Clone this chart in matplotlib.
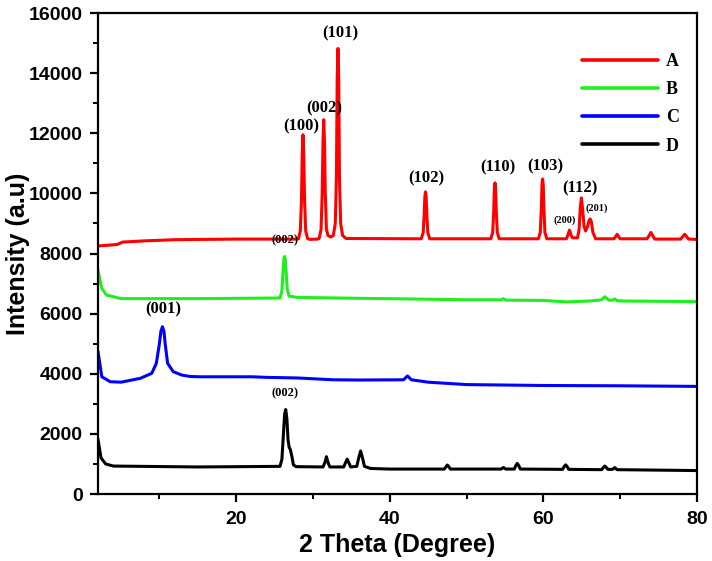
import matplotlib
matplotlib.use("Agg")
import matplotlib.pyplot as plt

# ================= DATA =================
# sample A (red)
A_x = [2.0, 4.5, 5.2, 8.0, 12.0, 20.0, 27.8,
       28.1, 28.35, 28.5, 28.6, 28.7, 28.8, 28.9, 29.05, 29.3, 29.6, 30.6,
       30.8, 31.05, 31.2, 31.3, 31.4, 31.5, 31.6, 31.75, 31.95, 32.3,
       32.65, 32.9, 33.05, 33.15, 33.25, 33.35, 33.45, 33.6, 33.85, 34.3,
       44.1, 44.35, 44.48, 44.57, 44.65, 44.73, 44.82, 44.95, 45.2,
       53.15, 53.4, 53.53, 53.62, 53.7, 53.78, 53.87, 54.0, 54.25,
       59.35, 59.6, 59.73, 59.82, 59.9, 59.98, 60.07, 60.2, 60.45,
       63.0, 63.2, 63.4, 63.6, 63.8, 64.45, 64.65, 64.8, 64.95, 65.1, 65.3, 65.5,
       65.75, 65.95, 66.1, 66.25, 66.45, 66.8,
       69.2, 69.4, 69.6, 69.8, 70.0, 73.5, 73.8, 74.0, 74.2, 74.5,
       77.9, 78.2, 78.4, 78.6, 78.9, 80.0]
A_y = [8250, 8300, 8380, 8420, 8460, 8480, 8480,
       8490, 8750, 9800, 11300, 11950, 11300, 9800, 8750, 8500, 8470, 8480,
       8500, 8800, 10000, 11700, 12450, 11700, 10000, 8800, 8600, 8550,
       8600, 9000, 10500, 13800, 14820, 13800, 10500, 9000, 8600, 8500,
       8490, 8700, 9300, 9900, 10050, 9900, 9300, 8700, 8490,
       8490, 8700, 9400, 10150, 10350, 10150, 9400, 8700, 8490,
       8490, 8700, 9500, 10300, 10480, 10300, 9500, 8700, 8490,
       8490, 8620, 8780, 8620, 8520, 8520, 8800, 9500, 9850, 9500, 8900, 8750,
       8900, 9100, 9150, 9050, 8700, 8490,
       8490, 8560, 8640, 8560, 8490, 8490, 8610, 8700, 8610, 8480,
       8480, 8580, 8640, 8580, 8480, 8470]

# sample B (green)
B_x = [2.0, 2.5, 3.1, 5.0, 15.0, 25.7, 25.95, 26.1, 26.2, 26.3, 26.4, 26.5, 26.65, 26.9,
       28.0, 36.0, 45.0, 50.0, 54.5, 54.8, 55.1, 60.0, 63.0, 66.0, 67.6, 67.85, 68.0,
       68.2, 68.5, 69.0, 69.3, 69.6, 70.5, 80.0]
B_y = [7450, 6840, 6620, 6500, 6500, 6520, 6750, 7400, 7800, 7900, 7800, 7400, 6800, 6580,
       6540, 6510, 6480, 6460, 6460, 6500, 6450, 6440, 6390, 6420, 6460, 6530, 6560,
       6520, 6450, 6450, 6490, 6430, 6420, 6400]

# sample C (blue)
C_x = [2.0, 2.5, 3.6, 5.0, 7.5, 9.0, 9.6, 10.0, 10.2, 10.4, 10.6, 10.75, 11.07, 11.8,
       12.9, 14.0, 15.3, 22.0, 24.0, 28.0, 32.6, 36.0, 41.8, 42.1, 42.3, 42.5, 42.8,
       45.0, 50.0, 60.0, 70.0, 80.0]
C_y = [4750, 3900, 3735, 3720, 3848, 4014, 4347, 5000, 5420, 5565, 5400, 5000, 4347, 4070,
       3958, 3910, 3900, 3900, 3880, 3860, 3800, 3792, 3800, 3880, 3925, 3880, 3800,
       3720, 3640, 3610, 3600, 3580]

# sample D (black)
D_x = [2.0, 2.4, 3.0, 4.0, 15.0, 25.7, 25.95, 26.15, 26.3, 26.45, 26.6, 26.75, 26.9,
       27.05, 27.25, 27.45, 27.8,
       31.3, 31.55, 31.75, 31.95, 32.2, 34.0, 34.25, 34.45, 34.65, 34.9, 35.7, 35.95,
       36.2, 36.45, 36.7, 37.5, 40.0,
       47.1, 47.3, 47.5, 47.7, 47.9, 54.5, 54.8, 55.1, 56.2, 56.4, 56.6, 56.8, 57.0,
       62.5, 62.7, 62.9, 63.1, 63.3, 67.6, 67.8, 68.0, 68.2, 68.4, 69.0, 69.3, 69.6, 80.0]
D_y = [1820, 1200, 1000, 930, 900, 920, 1150, 2000, 2650, 2810, 2500, 1800, 1550,
       1480, 1250, 970, 910,
       900, 1050, 1240, 1050, 900, 900, 1050, 1160, 1050, 900, 920, 1200,
       1430, 1200, 920, 850, 830,
       830, 900, 965, 900, 830, 830, 880, 830, 830, 940, 1020, 940, 830,
       820, 910, 970, 910, 820, 810, 880, 930, 880, 820, 820, 880, 810, 780]

LABELS = ["A", "B", "C", "D"]
COLORS = ["#ff0000", "#1fef1f", "#0000ff", "#000000"]

# peak indices: (text, x, y, fontsize)
PEAK_LABELS = [
    ("(100)", 28.5, 12240, 12), ("(002)", 31.5, 12830, 12), ("(101)", 33.5, 15320, 12),
    ("(102)", 44.8, 10500, 12), ("(110)", 54.1, 10870, 12), ("(103)", 60.3, 10890, 12),
    ("(112)", 64.7, 10170, 12), ("(200)", 62.8, 9110, 7.5), ("(201)", 66.9, 9500, 7.5),
    ("(002)", 26.3, 8450, 9), ("(001)", 10.5, 6130, 12), ("(002)", 26.4, 3360, 9),
]

# ================= PLOT =================
fig = plt.figure(figsize=(7.12, 5.61), dpi=100)
ax = fig.add_axes([0.1376, 0.1194, 0.8413, 0.8574])

series = [(A_x, A_y), (B_x, B_y), (C_x, C_y), (D_x, D_y)]
for (xs, ys), lab, col in zip(series, LABELS, COLORS):
    ax.plot(xs, ys, color=col, linewidth=2.2, label=lab,
            solid_joinstyle='round', solid_capstyle='round')

serif = {'family': 'Liberation Serif', 'weight': 'bold'}
for txt, x, y, fs in PEAK_LABELS:
    ax.text(x, y, txt, ha='center', va='center', fontsize=fs, fontdict=serif)

ax.set_xlim(2, 80)
ax.set_ylim(0, 16000)
ax.set_xticks([20, 40, 60, 80])
ax.set_xticks([10, 30, 50, 70], minor=True)
ax.set_yticks(range(0, 16001, 2000))
ax.set_yticks(range(1000, 16000, 2000), minor=True)

for s in ax.spines.values():
    s.set_linewidth(1.6)
ax.tick_params(axis='x', which='major', pad=6)
ax.tick_params(axis='y', which='major', pad=5)
ax.tick_params(which='major', direction='out', length=6, width=1.6)
ax.tick_params(which='minor', direction='out', length=3.5, width=1.4)
ax.tick_params(top=False, right=False)

for t in ax.get_xticklabels() + ax.get_yticklabels():
    t.set_fontfamily('Liberation Sans')
    t.set_fontweight('bold')
    t.set_fontsize(14)

ax.set_xlabel('2 Theta (Degree)', fontsize=18, fontweight='bold',
              fontfamily='Liberation Sans', labelpad=4)
ax.set_ylabel('Intensity (a.u)', fontsize=18, fontweight='bold',
              fontfamily='Liberation Sans', labelpad=-1)

leg = ax.legend(loc='upper left', bbox_to_anchor=(0.808, 0.917), frameon=False,
                handlelength=4.2, handletextpad=0.45, labelspacing=0.62,
                borderpad=0, borderaxespad=0, prop={'family': 'Liberation Serif',
                                                     'weight': 'bold', 'size': 13})
for h in leg.get_lines():
    h.set_linewidth(2.6)

fig.savefig('out.png', dpi=100)
